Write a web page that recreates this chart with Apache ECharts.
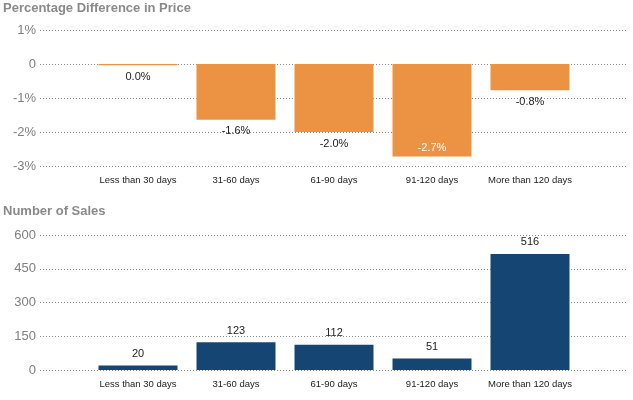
<!DOCTYPE html>
<html>
<head>
<meta charset="utf-8">
<script src="https://cdn.jsdelivr.net/npm/echarts@6/dist/echarts.min.js"></script>
<style>html,body{margin:0;padding:0;background:#fff}#c{width:633px;height:400px}</style>
</head>
<body>
<div id="c"></div>
<script>
var categories = ['Less than 30 days', '31-60 days', '61-90 days', '91-120 days', 'More than 120 days'];
var priceDiff = [-0.04, -1.64, -2.0, -2.72, -0.77];
var salesCount = [20, 123, 112, 51, 516];
var priceTicks = { min: -3, max: 1, interval: 1 };
var salesTicks = { min: 0, max: 600, interval: 150 };

var FONT = 'Liberation Sans';
var axisCats = [''].concat(categories, ['']);
function pad(arr) { return [null].concat(arr, [null]); }

var chart = echarts.init(document.getElementById('c'), null, { renderer: 'canvas' });

var split = { show: true, lineStyle: { color: '#8c8c8c', type: [1, 2], width: 1 } };

function xAx(gi) {
  return {
    type: 'category', gridIndex: gi, data: axisCats, boundaryGap: false,
    axisLine: { show: false }, axisTick: { show: false }, splitLine: { show: false },
    axisLabel: { interval: 0, color: '#222', fontFamily: FONT, fontSize: 9.5, margin: 9 }
  };
}

var priceData = pad(priceDiff).map(function (v) {
  if (v === null) return null;
  var inside = v < -2.5;
  return {
    value: v,
    label: inside ? { position: 'insideBottom', color: '#fff', distance: 3 } : undefined
  };
});

var option = {
  animation: false,
  title: [
    { text: 'Percentage Difference in Price', left: 3, top: 2, padding: 0,
      textStyle: { fontFamily: FONT, fontSize: 13, fontWeight: 'bold', color: '#8a8a8a' } },
    { text: 'Number of Sales', left: 3, top: 205, padding: 0,
      textStyle: { fontFamily: FONT, fontSize: 13, fontWeight: 'bold', color: '#8a8a8a' } }
  ],
  grid: [
    { left: 40, right: 5, top: 30, height: 136 },
    { left: 40, right: 5, top: 235, height: 135 }
  ],
  xAxis: [xAx(0), xAx(1)],
  yAxis: [
    { type: 'value', gridIndex: 0, min: priceTicks.min, max: priceTicks.max, interval: priceTicks.interval,
      axisLine: { show: false }, axisTick: { show: false }, splitLine: split,
      axisLabel: { color: '#808080', fontFamily: FONT, fontSize: 13, margin: 4,
        formatter: function (v) { return v === 0 ? '0' : v + '%'; } } },
    { type: 'value', gridIndex: 1, min: salesTicks.min, max: salesTicks.max, interval: salesTicks.interval,
      axisLine: { show: false }, axisTick: { show: false }, splitLine: split,
      axisLabel: { color: '#808080', fontFamily: FONT, fontSize: 13, margin: 4 } }
  ],
  series: [
    { type: 'bar', xAxisIndex: 0, yAxisIndex: 0, data: priceData, barWidth: 79,
      itemStyle: { color: '#EC9343' },
      label: { show: true, position: 'bottom', distance: 6, color: '#222', fontFamily: FONT, fontSize: 11,
        formatter: function (p) { return (Math.abs(p.value) < 0.05 ? '0.0' : p.value.toFixed(1)) + '%'; } } },
    { type: 'bar', xAxisIndex: 1, yAxisIndex: 1, data: pad(salesCount), barWidth: 79,
      itemStyle: { color: '#154673' },
      label: { show: true, position: 'top', distance: 6, color: '#222', fontFamily: FONT, fontSize: 11 } }
  ]
};
chart.setOption(option);
</script>
</body>
</html>
